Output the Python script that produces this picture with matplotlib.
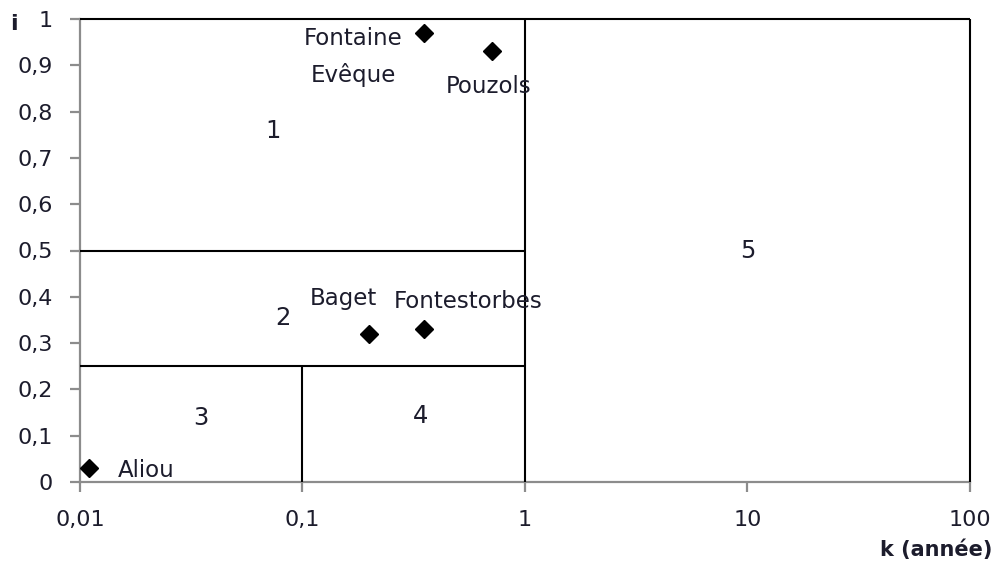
import matplotlib
matplotlib.use("Agg")
import matplotlib.pyplot as plt
from matplotlib.ticker import FixedLocator, FixedFormatter

plt.rcParams['font.family'] = ['DejaVu Sans']

# Data
stations = ["Aliou", "Baget", "Fontestorbes", "Fontaine\nEvêque", "Pouzols"]
k_values = [0.011, 0.2, 0.35, 0.35, 0.71]
i_values = [0.03, 0.32, 0.33, 0.97, 0.93]

# region boundaries (k, i)
seg_h_05 = ([0.01, 1], [0.5, 0.5])
seg_h_025 = ([0.01, 1], [0.25, 0.25])
seg_v_1 = ([1, 1], [0, 1])
seg_v_01 = ([0.1, 0.1], [0, 0.25])
seg_top = ([0.01, 100], [1, 1])
seg_right = ([100, 100], [0, 1])

region_labels = ["1", "2", "3", "4", "5"]
region_k = [0.074, 0.082, 0.035, 0.34, 10]
region_i = [0.758, 0.354, 0.138, 0.143, 0.50]

x_ticks = [0.01, 0.1, 1, 10, 100]
x_tick_labels = ["0,01", "0,1", "1", "10", "100"]
y_ticks = [0, 0.1, 0.2, 0.3, 0.4, 0.5, 0.6, 0.7, 0.8, 0.9, 1]
y_tick_labels = ["0", "0,1", "0,2", "0,3", "0,4", "0,5", "0,6", "0,7", "0,8", "0,9", "1"]

txt = "#1c1c2c"
fig = plt.figure(figsize=(9.95, 5.63), dpi=100)
ax = fig.add_axes([80/995, 1-482/563, (970-80)/995, (482-19)/563])
ax.set_xscale('log')
ax.set_xlim(0.01, 100)
ax.set_ylim(0, 1)

for xs, ys in [seg_h_05, seg_h_025, seg_v_1, seg_v_01, seg_top, seg_right]:
    ax.plot(xs, ys, color='black', lw=1.5, solid_capstyle='butt', clip_on=False, zorder=3)

ax.plot(k_values, i_values, linestyle='none', marker='D', markersize=9.5,
        color='black', clip_on=False, zorder=4)

# station labels (offsets in pixels)
offsets = {"Aliou": (57, -2), "Baget": (-26, 35), "Fontestorbes": (45, 28),
           "Fontaine\nEvêque": (-70, -24), "Pouzols": (-3, -35)}
for name, k, i in zip(stations, k_values, i_values):
    dx, dy = offsets[name]
    ax.annotate(name, (k, i), xytext=(dx * 0.72, dy * 0.72), textcoords='offset points',
                ha='center', va='center', fontsize=16.5, color=txt, linespacing=1.68,
                zorder=5)

for lab, k, i in zip(region_labels, region_k, region_i):
    ax.text(k, i, lab, ha='center', va='center', fontsize=17.5, color=txt)

for s in ['top', 'right']:
    ax.spines[s].set_visible(False)
for s in ['left', 'bottom']:
    ax.spines[s].set_color('#8c8c8c')
    ax.spines[s].set_linewidth(1.6)

ax.xaxis.set_major_locator(FixedLocator(x_ticks))
ax.xaxis.set_major_formatter(FixedFormatter(x_tick_labels))
ax.xaxis.set_minor_locator(FixedLocator([]))
ax.yaxis.set_major_locator(FixedLocator(y_ticks))
ax.yaxis.set_major_formatter(FixedFormatter(y_tick_labels))
ax.tick_params(axis='both', direction='out', length=7.5, width=1.6, color='#8c8c8c',
               labelsize=16, labelcolor=txt)
ax.tick_params(axis='x', pad=13)
ax.tick_params(axis='y', pad=12)

fig.text(14/995, 1-24/563, "i", ha='center', va='center', fontsize=16,
         fontweight='bold', color=txt)
fig.text(992/995, 1-550/563, "k (année)", ha='right', va='center', fontsize=15,
         fontweight='bold', color=txt)

fig.savefig("out.png", dpi=100)
